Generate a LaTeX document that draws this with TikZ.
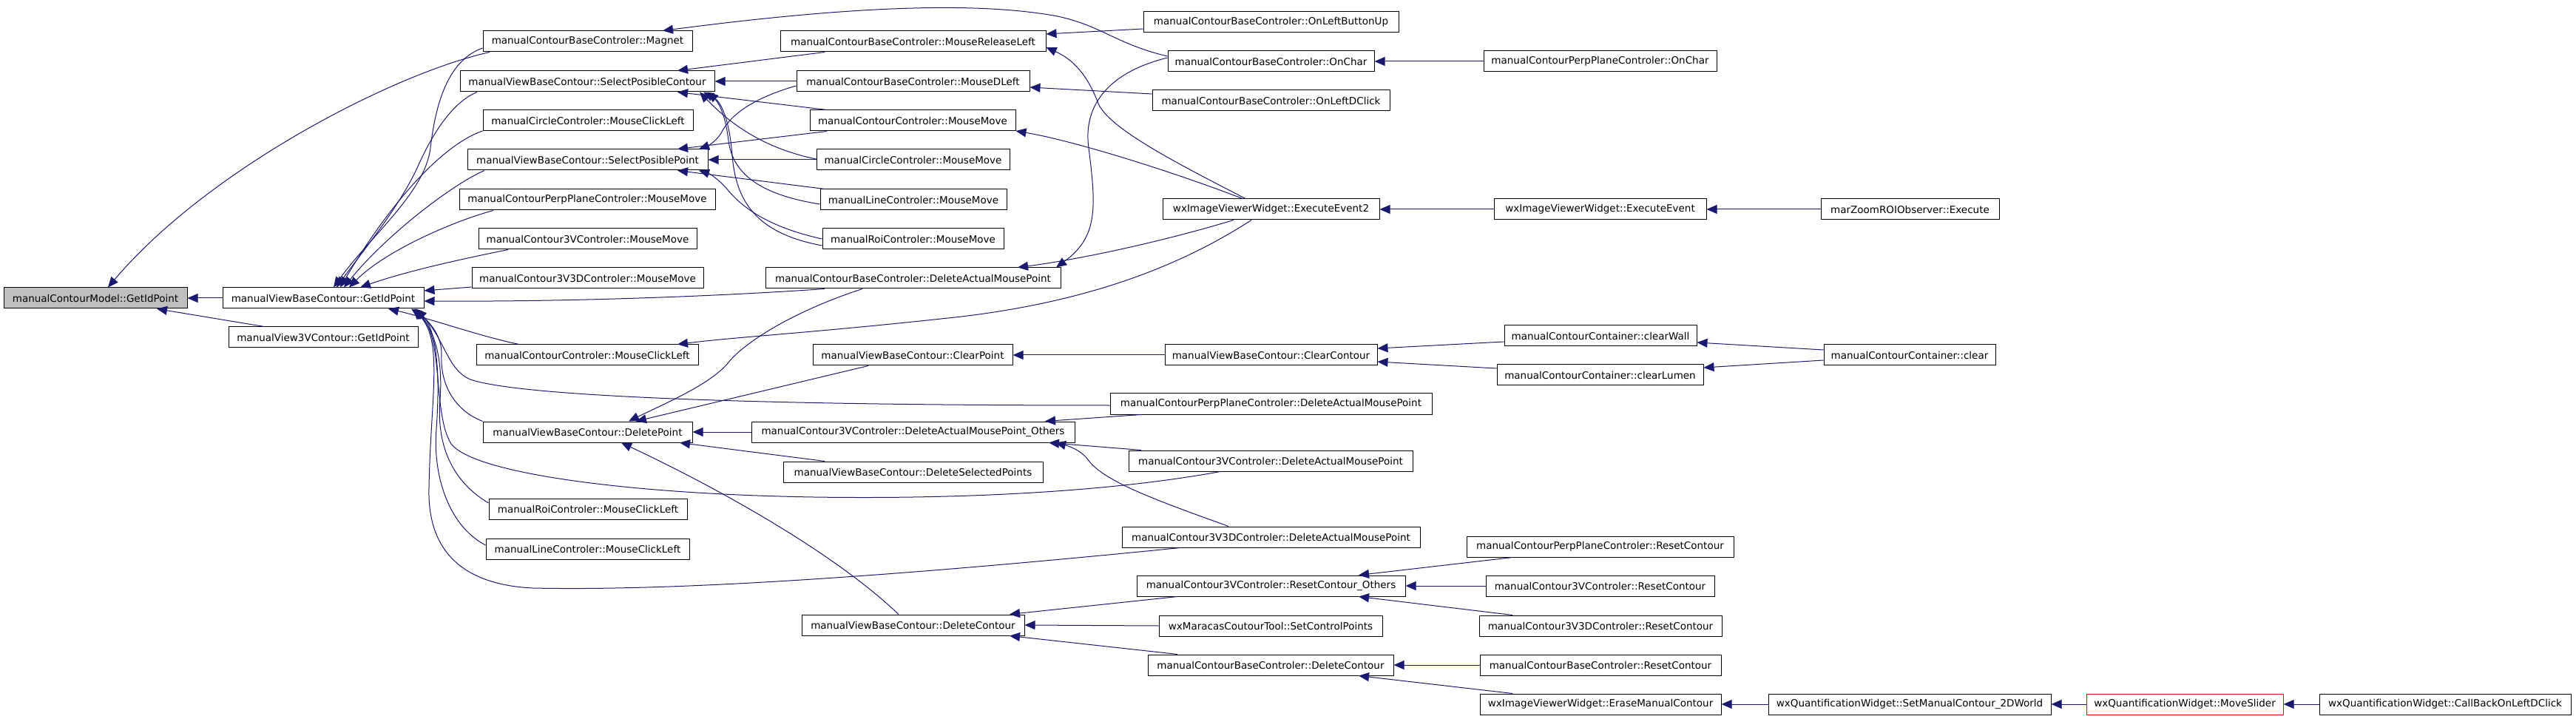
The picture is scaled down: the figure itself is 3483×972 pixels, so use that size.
\documentclass[tikz,border=0pt]{standalone}
\usepackage{fontspec}
\newfontfamily\gfont{DejaVu Sans}
\usetikzlibrary{arrows.meta}
\definecolor{edgecol}{RGB}{25,25,112}
\definecolor{rootfill}{RGB}{191,191,191}
\tikzset{
  bx/.style={draw=black, line width=0.5pt, fill=white, minimum width=#1*0.5pt, minimum height=14pt, inner sep=0pt, font=\gfont\fontsize{6.75}{8}\selectfont},
  rootbx/.style={bx=#1, fill=rootfill},
  redbx/.style={bx=#1, draw=red},
  edge/.style={draw=edgecol, line width=0.5pt, -{Triangle[length=7pt,width=6pt]}, fill=none}
}
\begin{document}
\begin{tikzpicture}[x=0.5pt,y=-0.5pt]
\useasboundingbox (0,0) rectangle (3483,972);
% column 0-1
\node[rootbx=248] (model) at (129,403) {manualContourModel::GetIdPoint};
\node[bx=272] (vbcget) at (437,403) {manualViewBaseContour::GetIdPoint};
\node[bx=256] (v3vget) at (437,456) {manualView3VContour::GetIdPoint};
% column 2
\node[bx=283] (magnet) at (794.5,56) {manualContourBaseControler::Magnet};
\node[bx=344] (spc) at (794,110) {manualViewBaseContour::SelectPosibleContour};
\node[bx=284] (circmcl) at (795,163) {manualCircleControler::MouseClickLeft};
\node[bx=325] (spp) at (794.5,216) {manualViewBaseContour::SelectPosiblePoint};
\node[bx=346] (ppmm) at (794,270) {manualContourPerpPlaneControler::MouseMove};
\node[bx=295] (c3vmm) at (794.5,323) {manualContour3VControler::MouseMove};
\node[bx=313] (c3v3dmm) at (794.5,376) {manualContour3V3DControler::MouseMove};
\node[bx=300] (ccmcl) at (794,480) {manualContourControler::MouseClickLeft};
\node[bx=283] (delpt) at (794.5,584) {manualViewBaseContour::DeletePoint};
\node[bx=268] (roimcl) at (795,688) {manualRoiControler::MouseClickLeft};
\node[bx=275] (linemcl) at (794.5,742) {manualLineControler::MouseClickLeft};
% column 3
\node[bx=359] (mrl) at (1234.5,56) {manualContourBaseControler::MouseReleaseLeft};
\node[bx=315] (mdl) at (1234.5,110) {manualContourBaseControler::MouseDLeft};
\node[bx=278] (ccmm) at (1234,163) {manualContourControler::MouseMove};
\node[bx=261] (circmm) at (1234.5,216) {manualCircleControler::MouseMove};
\node[bx=252] (linemm) at (1235,270) {manualLineControler::MouseMove};
\node[bx=245] (roimm) at (1234.5,323) {manualRoiControler::MouseMove};
\node[bx=399] (bcdamp) at (1234.5,376) {manualContourBaseControler::DeleteActualMousePoint};
\node[bx=270] (clearpt) at (1234,480) {manualViewBaseContour::ClearPoint};
\node[bx=437] (others) at (1234.5,584) {manualContour3VControler::DeleteActualMousePoint\_Others};
\node[bx=351] (delsel) at (1234.5,638) {manualViewBaseContour::DeleteSelectedPoints};
\node[bx=301] (vbcdelc) at (1234.5,845) {manualViewBaseContour::DeleteContour};
% column 4
\node[bx=345] (olbu) at (1718.5,29.5) {manualContourBaseControler::OnLeftButtonUp};
\node[bx=279] (onchar) at (1718.5,83) {manualContourBaseControler::OnChar};
\node[bx=321] (oldc) at (1718.5,136) {manualContourBaseControler::OnLeftDClick};
\node[bx=293] (ee2) at (1718.5,283) {wxImageViewerWidget::ExecuteEvent2};
\node[bx=287] (clearc) at (1718.5,480) {manualViewBaseContour::ClearContour};
\node[bx=435] (ppdamp) at (1718.5,546) {manualContourPerpPlaneControler::DeleteActualMousePoint};
\node[bx=384] (c3vdamp) at (1718,623) {manualContour3VControler::DeleteActualMousePoint};
\node[bx=403] (c3v3ddamp) at (1718.5,726) {manualContour3V3DControler::DeleteActualMousePoint};
\node[bx=363] (rco) at (1718.5,792) {manualContour3VControler::ResetContour\_Others};
\node[bx=302] (setcp) at (1718,846) {wxMaracasCoutourTool::SetControlPoints};
\node[bx=332] (bcdelc) at (1718,899) {manualContourBaseControler::DeleteContour};
% column 5
\node[bx=315] (pponchar) at (2163.5,83) {manualContourPerpPlaneControler::OnChar};
\node[bx=287] (ee) at (2163.5,283) {wxImageViewerWidget::ExecuteEvent};
\node[bx=260] (clearwall) at (2164,454) {manualContourContainer::clearWall};
\node[bx=279] (clearlumen) at (2163.5,507) {manualContourContainer::clearLumen};
\node[bx=361] (ppreset) at (2163.5,739) {manualContourPerpPlaneControler::ResetContour};
\node[bx=309] (c3vreset) at (2163.5,792) {manualContour3VControler::ResetContour};
\node[bx=328] (c3v3dreset) at (2164,846) {manualContour3V3DControler::ResetContour};
\node[bx=326] (bcreset) at (2164,899) {manualContourBaseControler::ResetContour};
\node[bx=326] (erase) at (2164,952) {wxImageViewerWidget::EraseManualContour};
% column 6-8
\node[bx=241] (marzoom) at (2582.5,283) {marZoomROIObserver::Execute};
\node[bx=232] (clear) at (2582,480) {manualContourContainer::clear};
\node[bx=382] (set2d) at (2582,952) {wxQuantificationWidget::SetManualContour\_2DWorld};
\node[redbx=266] (moveslider) at (2954,952) {wxQuantificationWidget::MoveSlider};
\node[bx=340] (callback) at (3306,952) {wxQuantificationWidget::CallBackOnLeftDClick};

% ---- edges (caller -> callee) ----
\draw[edge] (vbcget.west) -- (model.east);
\draw[edge] (357,0 |- v3vget.north) -- (212,0 |- model.south);
\draw[edge] (662,0 |- magnet.south) .. controls (530,100) and (280,230) .. (146,0 |- model.north);
\draw[edge] (magnet.west |- 0,65) .. controls (610,80) and (590,130) .. (582,200) .. controls (575,260) and (500,320) .. (451,0 |- vbcget.north);
\draw[edge] (645,0 |- spc.south) .. controls (612,138) and (585,180) .. (565,225) .. controls (540,280) and (490,340) .. (455,0 |- vbcget.north);
\draw[edge] (circmcl.west |- 0,177) .. controls (600,195) and (530,270) .. (460,0 |- vbcget.north);
\draw[edge] (655,0 |- spp.south) .. controls (610,250) and (520,320) .. (465,0 |- vbcget.north);
\draw[edge] (667,0 |- ppmm.south) .. controls (610,300) and (520,340) .. (472,0 |- vbcget.north);
\draw[edge] (687,0 |- c3vmm.south) .. controls (600,355) and (540,370) .. (487,0 |- vbcget.north);
\draw[edge] (c3v3dmm.west |- 0,388) -- (vbcget.east |- 0,393);
\draw[edge] (1115,0 |- bcdamp.south) .. controls (950,402) and (750,408) .. (vbcget.east |- 0,407);
\draw[edge] (702,0 |- ccmcl.north) .. controls (650,455) and (580,430) .. (525,0 |- vbcget.south);
\draw[edge] (delpt.north west) .. controls (615,555) and (595,520) .. (597,480) .. controls (598,450) and (575,430) .. (556,0 |- vbcget.south);
\draw[edge] (roimcl.west |- 0,680) .. controls (610,650) and (590,600) .. (595,540) .. controls (600,470) and (580,440) .. (560,0 |- vbcget.south);
\draw[edge] (linemcl.west |- 0,737) .. controls (605,710) and (585,640) .. (590,580) .. controls (597,480) and (585,440) .. (562,0 |- vbcget.south);
\draw[edge] (ppdamp.west |- 0,548) .. controls (1000,548) and (700,535) .. (636,513) .. controls (605,500) and (602,460) .. (563,0 |- vbcget.south);
\draw[edge] (1650,0 |- c3vdamp.south) .. controls (1500,665) and (1300,675) .. (1100,672) .. controls (850,668) and (640,640) .. (610,600) .. controls (585,560) and (600,460) .. (561,0 |- vbcget.south);
\draw[edge] (1596,0 |- c3v3ddamp.south) .. controls (1300,770) and (950,800) .. (720,795) .. controls (620,790) and (578,740) .. (580,660) .. controls (582,540) and (600,460) .. (558,0 |- vbcget.south);
% SelectPosibleContour callers
\draw[edge] (1115,0 |- mrl.south) -- (916,0 |- spc.north);
\draw[edge] (mdl.west) -- (spc.east);
\draw[edge] (1118,0 |- ccmm.north) -- (916,0 |- spc.south);
\draw[edge] (circmm.west |- 0,215) .. controls (1030,200) and (985,165) .. (946,0 |- spc.south);
\draw[edge] (linemm.west |- 0,276) .. controls (1020,262) and (990,230) .. (985,190) .. controls (980,150) and (970,135) .. (951,0 |- spc.south);
\draw[edge] (roimm.west |- 0,332) .. controls (1020,315) and (995,270) .. (990,210) .. controls (986,160) and (975,140) .. (957,0 |- spc.south);
% SelectPosiblePoint callers
\draw[edge] (mdl.west |- 0,116) .. controls (1010,135) and (985,160) .. (975,180) .. controls (968,192) and (955,198) .. (945,0 |- spp.north);
\draw[edge] (1118,0 |- ccmm.south) -- (916,0 |- spp.north);
\draw[edge] (circmm.west) -- (spp.east);
\draw[edge] (1115,0 |- linemm.north) -- (916,0 |- spp.south);
\draw[edge] (roimm.west |- 0,323) .. controls (1030,305) and (1000,275) .. (985,258) .. controls (975,245) and (960,235) .. (945,0 |- spp.south);
% column 4 -> column 3
\draw[edge] (olbu.west |- 0,39) -- (mrl.east |- 0,46);
\draw[edge] (1684,0 |- ee2.north) .. controls (1600,225) and (1500,175) .. (1485,140) .. controls (1470,100) and (1450,80) .. (mrl.east |- 0,64);
\draw[edge] (onchar.west |- 0,76) .. controls (1510,60) and (1490,35) .. (1430,22) .. controls (1300,-2) and (1100,15) .. (896,0 |- magnet.north);
\draw[edge] (onchar.west |- 0,78) .. controls (1490,100) and (1465,150) .. (1472,200) .. controls (1482,280) and (1485,320) .. (1428,0 |- bcdamp.north);
\draw[edge] (oldc.west |- 0,127) -- (mdl.east |- 0,118);
\draw[edge] (1680,0 |- ee2.north) .. controls (1580,230) and (1450,190) .. (ccmm.east |- 0,177);
\draw[edge] (1668,0 |- ee2.south) .. controls (1560,330) and (1450,352) .. (1376,0 |- bcdamp.north);
\draw[edge] (1692,0 |- ee2.south) .. controls (1580,370) and (1450,410) .. (1300,428) .. controls (1100,450) and (1000,455) .. (916,0 |- ccmcl.north);
% DeletePoint callers
\draw[edge] (1166,0 |- bcdamp.south) .. controls (1060,425) and (1000,470) .. (985,490) .. controls (960,520) and (900,545) .. (850,0 |- delpt.north);
\draw[edge] (1174,0 |- clearpt.south) -- (860,0 |- delpt.north);
\draw[edge] (others.west) -- (delpt.east);
\draw[edge] (1115,0 |- delsel.north) -- (919,0 |- delpt.south);
\draw[edge] (1215,0 |- vbcdelc.north) .. controls (1120,740) and (950,650) .. (840,0 |- delpt.south);
% others
\draw[edge] (clearc.west) -- (clearpt.east);
\draw[edge] (1592,0 |- rco.south) -- (1365,0 |- vbcdelc.north);
\draw[edge] (setcp.west) -- (vbcdelc.east);
\draw[edge] (1592,0 |- bcdelc.north) -- (1365,0 |- vbcdelc.south);
\draw[edge] (1543,0 |- ppdamp.south) -- (1413,0 |- others.north);
\draw[edge] (1543,0 |- c3vdamp.north) -- (1418,0 |- others.south);
\draw[edge] (1661,0 |- c3v3ddamp.north) .. controls (1560,675) and (1490,650) .. (1470,620) .. controls (1460,608) and (1445,603) .. (1427,0 |- others.south);
\draw[edge] (clearwall.west |- 0,462) -- (clearc.east |- 0,471);
\draw[edge] (clearlumen.west |- 0,498) -- (clearc.east |- 0,489);
\draw[edge] (clear.west |- 0,473) -- (clearwall.east |- 0,463);
\draw[edge] (clear.west |- 0,487) -- (clearlumen.east |- 0,497);
\draw[edge] (ee.west) -- (ee2.east);
\draw[edge] (marzoom.west) -- (ee.east);
\draw[edge] (pponchar.west) -- (onchar.east);
\draw[edge] (2045,0 |- ppreset.south) -- (1837,0 |- rco.north);
\draw[edge] (c3vreset.west) -- (rco.east);
\draw[edge] (2045,0 |- c3v3dreset.north) -- (1837,0 |- rco.south);
\draw[edge] (bcreset.west) -- (bcdelc.east);
\draw[edge] (2045,0 |- erase.north) -- (1837,0 |- bcdelc.south);
\draw[edge] (set2d.west) -- (erase.east);
\draw[edge] (moveslider.west) -- (set2d.east);
\draw[edge] (callback.west) -- (moveslider.east);
\end{tikzpicture}
\end{document}
